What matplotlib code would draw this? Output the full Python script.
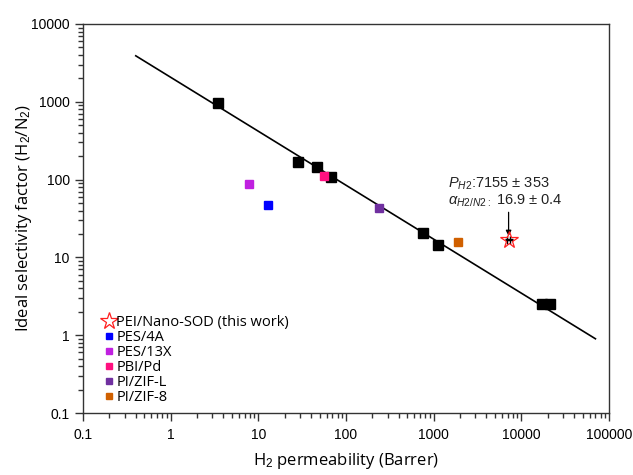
import numpy as np
import matplotlib
matplotlib.use("Agg")
import matplotlib.pyplot as plt

plt.rcParams['font.family'] = ['Liberation Sans', 'DejaVu Sans']
plt.rcParams['mathtext.fontset'] = 'custom'
plt.rcParams['mathtext.rm'] = 'Liberation Sans'
plt.rcParams['mathtext.it'] = 'Liberation Sans:italic'

# data
black_x = [3.5, 28, 47, 67, 750, 1120, 17000, 21000]
black_y = [960, 168, 145, 108, 20.6, 14.4, 2.5, 2.5]

series_names = ['PES/4A', 'PES/13X', 'PBI/Pd', 'PI/ZIF-L', 'PI/ZIF-8']
series_x = [12.9, 7.8, 56, 240, 1900]
series_y = [47, 88, 111, 43, 15.8]
series_colors = ['#0000FF', '#C020E0', '#FF1080', '#7030A0', '#D06000']

this_work_x = 7155
this_work_y = 16.9
this_work_xerr = 353
this_work_yerr = 0.4

line_x = [0.4, 70000]
line_y = [3900, 0.9]

fig = plt.figure(figsize=(6.33, 4.75), dpi=100)
ax = fig.add_axes([0.1311, 0.1305, 0.831, 0.819])

ax.plot(line_x, line_y, color='black', linewidth=1.2, zorder=2)
ax.plot(black_x, black_y, 's', color='black', markersize=7, zorder=3)

for name, x, y, c in zip(series_names, series_x, series_y, series_colors):
    ax.plot([x], [y], 's', color=c, markersize=6, zorder=3)

ax.errorbar([this_work_x], [this_work_y], xerr=[this_work_xerr], yerr=[this_work_yerr],
            fmt='none', ecolor='black', elinewidth=0.8, capsize=3, zorder=4)
ax.plot([this_work_x], [this_work_y], '*', markersize=13, markerfacecolor='none',
        markeredgecolor='#FF2020', markeredgewidth=0.9, zorder=5)

ax.set_xscale('log')
ax.set_yscale('log')
ax.set_xlim(0.1, 100000)
ax.set_ylim(0.1, 10000)

ax.set_xticks([0.1, 1, 10, 100, 1000, 10000, 100000])
ax.set_xticklabels(['0.1', '1', '10', '100', '1000', '10000', '100000'])
ax.set_yticks([0.1, 1, 10, 100, 1000, 10000])
ax.set_yticklabels(['0.1', '1', '10', '100', '1000', '10000'])
ax.tick_params(which='major', direction='out', length=6, width=1, labelsize=10,
               colors='#333333', labelcolor='black')
ax.tick_params(which='minor', direction='out', length=3.5, width=1, colors='#333333')
ax.tick_params(axis='x', pad=5)
for s in ax.spines.values():
    s.set_color('#333333')
    s.set_linewidth(1)

label_font = {'family': 'Open Sans', 'size': 12}
ax.set_xlabel('H$_2$ permeability (Barrer)', fontdict=label_font, labelpad=6)
ax.set_ylabel('Ideal selectivity factor (H$_2$/N$_2$)', fontdict=label_font, labelpad=-2)

ax.text(1450, 88, r'$P_{H2}$:7155 ± 353', fontsize=10.5, color='#222222', va='center')
ax.text(1450, 53, r'$\alpha_{H2/N2:}$ 16.9 ± 0.4', fontsize=10.5, color='#222222', va='center')
ax.annotate('', xy=(this_work_x, 18.8), xytext=(this_work_x, 38),
            arrowprops=dict(arrowstyle='-|>', color='black', lw=0.9, mutation_scale=8,
                            shrinkA=0, shrinkB=0))

handles = [plt.Line2D([], [], linestyle='none', marker='*', markersize=13,
                      markerfacecolor='none', markeredgecolor='#FF2020', markeredgewidth=0.9)]
for c in series_colors:
    handles.append(plt.Line2D([], [], linestyle='none', marker='s', markersize=5, color=c))
labels = ['PEI/Nano-SOD (this work)'] + series_names
ax.legend(handles, labels, loc='lower left', bbox_to_anchor=(0.04, 0.02), frameon=False,
          prop={'family': 'Open Sans', 'size': 10.5}, handlelength=0.7, handletextpad=0.15,
          labelspacing=0.0, borderpad=0, borderaxespad=0)

fig.savefig('out.png', dpi=100)
